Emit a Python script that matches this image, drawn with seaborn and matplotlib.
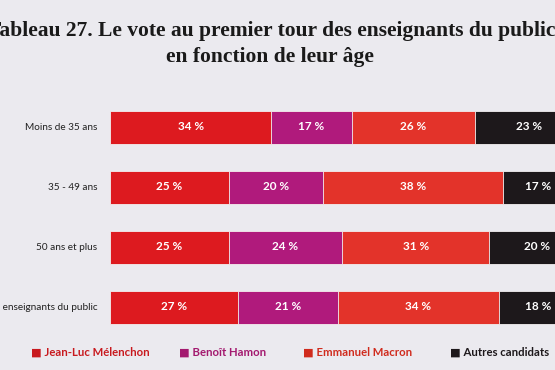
import numpy as np
import pandas as pd
import matplotlib
matplotlib.use("Agg")
import matplotlib.pyplot as plt
import seaborn as sns

categories = ["Moins de 35 ans", "35 - 49 ans", "50 ans et plus",
              "Ensemble des enseignants du public"]
series_names = ["Jean-Luc Mélenchon", "Benoît Hamon", "Emmanuel Macron", "Autres candidats"]
melenchon = [34, 25, 25, 27]
hamon = [17, 20, 24, 21]
macron = [26, 38, 31, 34]
autres = [23, 17, 20, 18]

colors = ["#dd1a1f", "#b01a7c", "#e3332a", "#1d181b"]
legend_colors = ["#c8191e", "#a3196f", "#d02b1d", "#1d181b"]
paper = "#ebeaef"

sns.set_theme(style="white")
plt.rcParams["font.family"] = ["Lato", "DejaVu Sans"]

df = pd.DataFrame({"cat": categories, "m": melenchon, "h": hamon,
                   "e": macron, "a": autres})
parts = [df["m"], df["h"], df["e"], df["a"]]
cums = np.cumsum(np.vstack(parts), axis=0)

fig = plt.figure(figsize=(5.55, 3.7), dpi=100, facecolor=paper)
# axes run past the right edge, like the cropped photo
ax = fig.add_axes([110 / 555, 1 - 337 / 370, 474 / 555, 240 / 370])
ax.set_facecolor(paper)

# stacked bars: draw cumulative totals from the back
for i in range(len(parts) - 1, -1, -1):
    sns.barplot(x=cums[i], y=df["cat"], orient="h", color=colors[i],
                width=0.55, edgecolor="#f3f0f0", linewidth=0.6, ax=ax,
                saturation=1)

# last segment runs off the page: keep its label inside the visible part
visible_max = (555 - 110) / 474 * 100 - 3.6
for i, vals in enumerate(parts):
    starts = cums[i] - np.asarray(vals)
    for j, v in enumerate(vals):
        xc = min(starts[j] + v / 2, visible_max)
        ax.text(xc, j, f"{v} %", ha="center", va="center",
                color="white", fontsize=8.5, fontweight="bold")

ax.set_xlim(0, 100)
ax.set_ylim(3.5, -0.5)
ax.set_xlabel("")
ax.set_ylabel("")
ax.set_xticks([])
ax.tick_params(axis="y", length=0, pad=9, labelsize=7.2, labelcolor="#222222")
sns.despine(ax=ax, left=True, bottom=True, top=True, right=True)

fig.text(0.488, 0.916, "Tableau 27. Le vote au premier tour des enseignants du public",
         ha="center", va="center", fontsize=15.5, fontweight="bold",
         family="Liberation Serif", color="#1a1a1a")
fig.text(0.487, 0.846, "en fonction de leur âge", ha="center", va="center",
         fontsize=15.5, fontweight="bold", family="Liberation Serif", color="#1a1a1a")

leg_x = [31 / 555, 179 / 555, 303 / 555, 450 / 555]
for x, name, c in zip(leg_x, series_names, legend_colors):
    fig.text(x, 1 - 352 / 370, "■ " + name, ha="left", va="center",
             fontsize=8.2, fontweight="bold", color=c)

fig.savefig("out.png", dpi=100, facecolor=paper)
